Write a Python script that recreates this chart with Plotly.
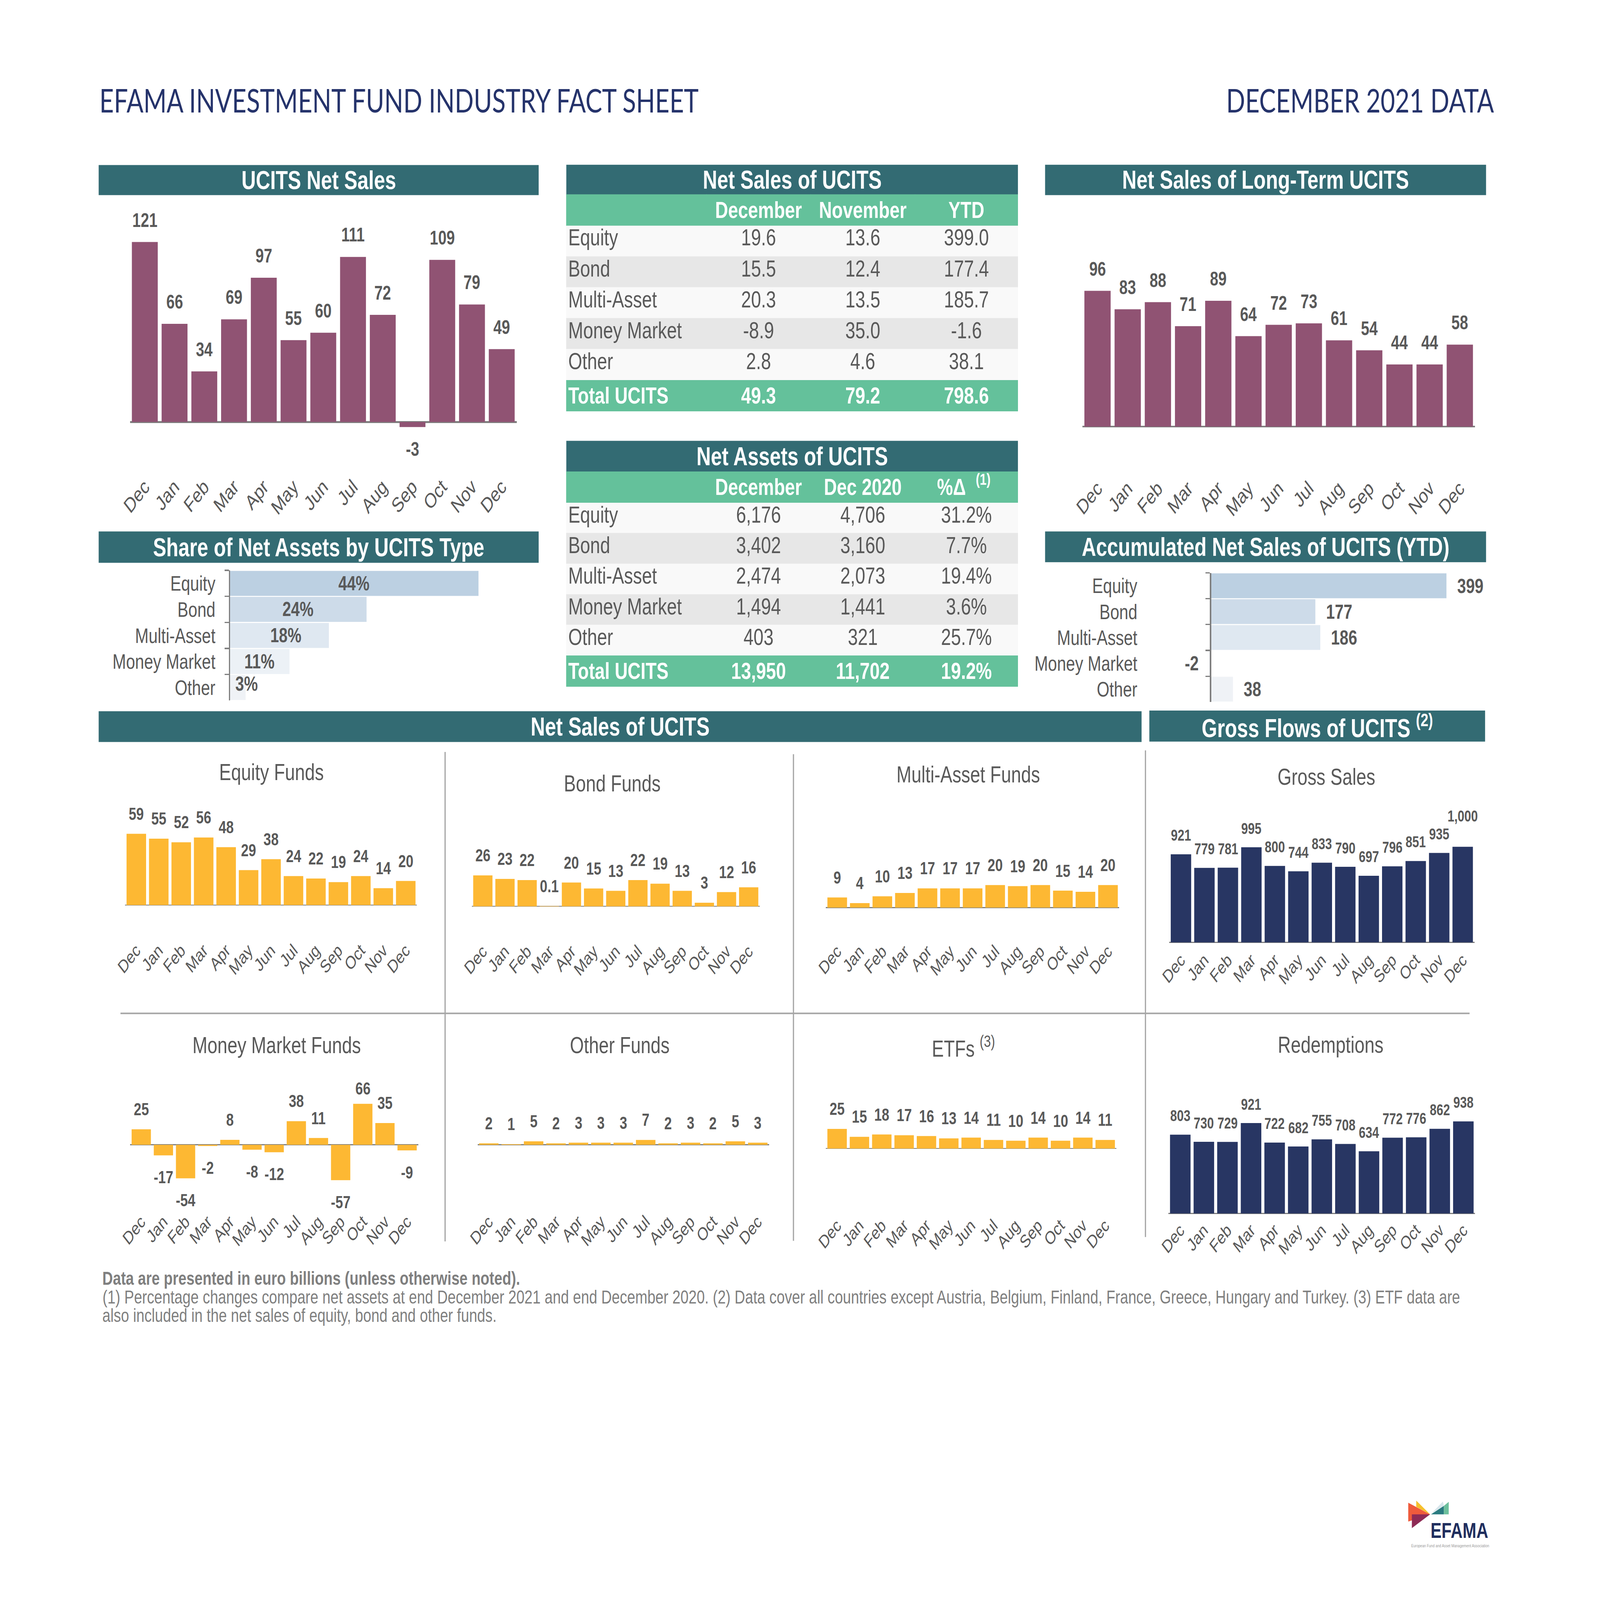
import plotly.graph_objects as go

W, H = 6600, 5100

# --- data ---
months = ["Dec", "Jan", "Feb", "Mar", "Apr", "May", "Jun", "Jul", "Aug", "Sep", "Oct", "Nov", "Dec"]
fund_types = ["Equity", "Bond", "Multi-Asset", "Money Market", "Other"]

ucits_net_sales = [121, 66, 34, 69, 97, 55, 60, 111, 72, -3.4, 109, 79, 49]
long_term_sales = [96, 83, 88, 71, 89, 64, 72, 73, 61, 54, 44, 44, 58]
equity_funds = [59, 55, 52, 56, 48, 29, 38, 24, 22, 19, 24, 14, 20]
bond_funds = [26, 23, 22, 0.1, 20, 15, 13, 22, 19, 13, 3, 12, 16]
multi_asset_funds = [9, 4, 10, 13, 17, 17, 17, 20, 19, 20, 15, 14, 20]
money_market_funds = [25, -17, -54, -2, 8, -8, -12, 38, 11, -57, 66, 35, -9]
other_funds = [2, 1, 5, 2, 3, 3, 3, 7, 2, 3, 2, 5, 3]
etfs = [25, 15, 18, 17, 16, 13, 14, 11, 10, 14, 10, 14, 11]
gross_sales = [921, 779, 781, 995, 800, 744, 833, 790, 697, 796, 851, 935, 1000]
redemptions = [803, 730, 729, 921, 722, 682, 755, 708, 634, 772, 776, 862, 938]

share_net_assets = [44.3, 24.4, 17.7, 10.7, 2.9]
ytd_net_sales = [399.0, 177.4, 185.7, -1.6, 38.1]

sales_columns = ["", "December", "November", "YTD"]
sales_rows = fund_types + ["Total UCITS"]
sales_december = ["19.6", "15.5", "20.3", "-8.9", "2.8", "49.3"]
sales_november = ["13.6", "12.4", "13.5", "35.0", "4.6", "79.2"]
sales_ytd = ["399.0", "177.4", "185.7", "-1.6", "38.1", "798.6"]

assets_columns = ["", "December", "Dec 2020", "%Δ\u00a0\u00a0\u00a0\u00a0\u00a0\u00a0"]
assets_december = ["6,176", "3,402", "2,474", "1,494", "403", "13,950"]
assets_dec2020 = ["4,706", "3,160", "2,073", "1,441", "321", "11,702"]
assets_change = ["31.2%", "7.7%", "19.4%", "3.6%", "25.7%", "19.2%"]

# --- colours ---
TEAL = "#336B73"
GREEN = "#64C19B"
PLUM = "#905373"
AMBER = "#FDB833"
NAVY = "#283663"
TEXT = "#595959"
RULE = "#A6A6A6"
AXIS = "#7F7F7F"
SHARE_BLUES = ["#BCD0E2", "#CDDBE9", "#DFE8F1", "#ECF1F6", "#EFF2F6"]
FONT = "Liberation Sans"


def fx(px):
    return px / W


def fy(px):
    return 1 - px / H


fig = go.Figure()
shapes = []
annotations = []
axis_layout = {}
axis_no = 0


def note(text, x, y, size, color=TEXT, anchor="center", bold=False, family=FONT):
    if bold:
        text = f"<b>{text}</b>"
    annotations.append(dict(text=text, x=fx(x), y=fy(y), xref="paper", yref="paper", xanchor=anchor,
                            yanchor="middle", showarrow=False, font=dict(size=size, color=color, family=family)))


def band(text, x0, x1, y0, y1):
    shapes.append(dict(type="rect", xref="paper", yref="paper", x0=fx(x0), x1=fx(x1), y0=fy(y0), y1=fy(y1),
                       fillcolor=TEAL, line_width=0, layer="below"))
    note(text, (x0 + x1) / 2, (y0 + y1) / 2, 82, "white", bold=True)


def rule(x0, y0, x1, y1):
    shapes.append(dict(type="line", xref="paper", yref="paper", x0=fx(x0), x1=fx(x1), y0=fy(y0), y1=fy(y1),
                       line=dict(color=RULE, width=5), layer="below"))


def fmt(v):
    if abs(v) < 1:
        return str(v)
    return f"{v:,.0f}"


def month_chart(values, x0, x1, zero, unit, tick_top, color, label_size, tick_size, line_w,
                up=64, down=70, standoff=0, lift=None):
    # column chart on its own axes, zero line at pixel `zero`, `unit` px per value
    global axis_no
    axis_no += 1
    lift = lift or {}
    top = zero - max(max(values), 0) * unit - 20
    xa, ya = f"x{axis_no}", f"y{axis_no}"
    fig.add_trace(go.Bar(x=list(range(13)), y=values, marker_color=color, marker_line_width=0,
                         xaxis=xa, yaxis=ya, width=0.87, showlegend=False, hoverinfo="skip"))
    axis_layout[f"xaxis{axis_no}"] = dict(
        domain=[fx(x0), fx(x1)], range=[-0.5, 12.5], anchor=ya, tickmode="array", tickvals=list(range(13)),
        ticktext=months, tickangle=-45, ticks="", showgrid=False, zeroline=False, showline=False,
        tickfont=dict(size=tick_size, color=TEXT, family=FONT), ticklabelstandoff=standoff)
    axis_layout[f"yaxis{axis_no}"] = dict(
        domain=[fy(tick_top), fy(top)], range=[-(tick_top - zero) / unit, (zero - top) / unit], anchor=xa,
        showgrid=False, showticklabels=False, ticks="", showline=False,
        zeroline=True, zerolinecolor=AXIS, zerolinewidth=line_w)
    for i, v in enumerate(values):
        annotations.append(dict(text=f"<b>{fmt(v)}</b>", x=i, y=v, xref=xa, yref=ya, showarrow=False,
                                xanchor="center", yanchor="middle",
                                yshift=(up if v >= 0 else -down) + lift.get(i, 0),
                                font=dict(size=label_size, color=TEXT, family=FONT)))


def type_chart(values, colors, axis_x, y0, y1, unit, right, left, standoff):
    # horizontal bars by fund type, axis line with boundary ticks at pixel axis_x
    global axis_no
    axis_no += 1
    xa, ya = f"x{axis_no}", f"y{axis_no}"
    fig.add_trace(go.Bar(y=fund_types, x=values, orientation="h", marker_color=colors, marker_line_width=0,
                         xaxis=xa, yaxis=ya, width=0.96, showlegend=False, hoverinfo="skip"))
    axis_layout[f"xaxis{axis_no}"] = dict(
        domain=[fx(left), fx(right)], range=[(left - axis_x) / unit, (right - axis_x) / unit], anchor=ya,
        visible=False)
    axis_layout[f"yaxis{axis_no}"] = dict(
        domain=[fy(y1), fy(y0)], range=[4.5, -0.5], type="category", anchor="free", position=fx(axis_x),
        showline=True, linecolor=AXIS, linewidth=5, ticks="outside", ticklen=18, tickwidth=4, tickcolor=AXIS,
        tickson="boundaries", showgrid=False, zeroline=False,
        tickfont=dict(size=67, color=TEXT, family=FONT), ticklabelstandoff=standoff)
    return xa, ya


def fact_table(columns, first, second, third, x0, x1, y0, y1, row_h):
    rows = len(first)
    fills = [["#F9F9F9", "#E7E7E7"][i % 2] for i in range(rows - 1)] + [GREEN]
    colors = [TEXT] * (rows - 1) + ["white"]
    cols = []
    for col in (sales_rows, first, second, third):
        cols.append(list(col[:-1]) + [f"<b>{col[-1]}</b>"])
    fig.add_trace(go.Table(
        domain=dict(x=[fx(x0), fx(x1)], y=[fy(y1), fy(y0)]),
        columnwidth=[578, 430, 430, 425],
        header=dict(values=[f"<b>{c}</b>" if c else "" for c in columns], fill_color=GREEN,
                    line=dict(width=1, color=GREEN),
                    align="center", height=row_h, font=dict(size=74, color="white", family=FONT)),
        cells=dict(values=cols, fill_color=[fills] * 4, line=dict(width=1, color=[fills] * 4), height=row_h,
                   align=["left", "center", "center", "center"],
                   font=dict(size=74, color=[colors] * 4, family=FONT))))


# --- page title ---
note("EFAMA INVESTMENT FUND INDUSTRY FACT SHEET", 408, 319, 103, "#25336B", anchor="left", family="Lato")
note("DECEMBER 2021 DATA", 6165, 319, 103, "#25336B", anchor="right", family="Lato")

# --- section bands ---
band("UCITS Net Sales", 407, 2222, 526, 622)
band("Net Sales of UCITS", 2336, 4199, 525, 620)
band("Net Sales of Long-Term UCITS", 4311, 6130, 525, 622)
band("Net Assets of UCITS", 2336, 4199, 1405, 1503)
band("Share of Net Assets by UCITS Type", 407, 2222, 1694, 1794)
band("Accumulated Net Sales of UCITS (YTD)", 4311, 6130, 1694, 1792)
band("Net Sales of UCITS", 407, 4709, 2267, 2365)
band("Gross Flows of UCITS <sup>(2)</sup>", 4741, 6126, 2265, 2364)

# --- tables ---
fact_table(sales_columns, sales_december, sales_november, sales_ytd, 2336, 4199, 620, 1340, 98.5)
fact_table(assets_columns, assets_december, assets_dec2020, assets_change, 2336, 4199, 1503, 2220, 97.5)
note("(1)", 4056, 1528, 50, "white", bold=True)

# --- top charts ---
month_chart(ucits_net_sales, 536, 2131, 1345, 4.74, 1499, PLUM, 62, 66, 6, up=70, down=70)
month_chart(long_term_sales, 4465, 6084, 1360, 4.51, 1504, PLUM, 62, 66, 5, up=70, down=70)

xa, ya = type_chart(share_net_assets, SHARE_BLUES, 946, 1818, 2233, 23.2, 2200, 946, 42)
share_shift = [(0, 0), (0, 0), (28, 0), (0, 0), (38, 12)]
for name, v, (dx, dy) in zip(fund_types, share_net_assets, share_shift):
    annotations.append(dict(text=f"<b>{v:.0f}%</b>", x=v / 2, y=name, xref=xa, yref=ya, showarrow=False,
                            xshift=dx, yshift=dy, font=dict(size=64, color=TEXT, family=FONT)))

xa, ya = type_chart(ytd_net_sales, SHARE_BLUES, 4993, 1826, 2238, 2.44, 6120, 4700, 286)
for name, v in zip(fund_types, ytd_net_sales):
    annotations.append(dict(text=f"<b>{v:.0f}</b>", x=v, y=name, xref=xa, yref=ya, showarrow=False,
                            xanchor="left" if v >= 0 else "right", xshift=42 if v >= 0 else -42,
                            font=dict(size=65, color=TEXT, family=FONT)))

# --- fund panels ---
month_chart(equity_funds, 516, 1720, 2885, 3.85, 2983, AMBER, 56, 58, 3)
month_chart(bond_funds, 1946, 3134, 2889, 3.8, 2986, AMBER, 56, 58, 3)
month_chart(multi_asset_funds, 3407, 4617, 2893, 3.6, 2986, AMBER, 56, 58, 3)
month_chart(money_market_funds, 537, 1725, 3649, 1.98, 3848, AMBER, 56, 58, 3, lift={10: -15})
month_chart(other_funds, 1970, 3172, 3649, 2.2, 3848, AMBER, 56, 58, 3)
month_chart(etfs, 3407, 4605, 3661, 2.5, 3860, AMBER, 56, 58, 3)
month_chart(gross_sales, 4823, 6082, 3004, 0.305, 3010, NAVY, 50, 58, 3, up=60, standoff=4, lift={12: 38})
month_chart(redemptions, 4820, 6085, 3868, 0.313, 3871, NAVY, 50, 58, 3, up=60, standoff=4)

note("Equity Funds", 1120, 2462, 74)
note("Bond Funds", 2525, 2496, 74)
note("Multi-Asset Funds", 3994, 2468, 74)
note("Gross Sales", 5471, 2476, 74)
note("Money Market Funds", 1141, 3331, 74)
note("Other Funds", 2556, 3331, 74)
note("ETFs <sup>(3)</sup>", 3974, 3337, 74)
note("Redemptions", 5489, 3329, 74)

rule(1836, 2397, 1836, 3957)
rule(3273, 2404, 3273, 3955)
rule(4725, 2392, 4725, 3943)
rule(497, 3230, 6062, 3230)

# --- footnotes ---
note("Data are presented in euro billions (unless otherwise noted).", 420, 4074, 60, AXIS, anchor="left", bold=True)
note("(1) Percentage changes compare net assets at end December 2021 and end December 2020. (2) Data cover all "
     "countries except Austria, Belgium, Finland, France, Greece, Hungary and Turkey. (3) ETF data are",
     420, 4134, 60, AXIS, anchor="left")
note("also included in the net sales of equity, bond and other funds.", 420, 4193, 60, AXIS, anchor="left")

# --- logo ---
logo_parts = [
    ("M5809,4790 L5809,4850 L5899,4827 Z", "#EF5B3C"),
    ("M5842,4783 L5842,4803 L5899,4827 Z", "#F6C02C"),
    ("M5824,4827 L5824,4871 L5899,4827 Z", "#8E2B55"),
    ("M5903,4827 L5956,4800 L5956,4827 Z", "#2A7B80"),
    ("M5956,4800 L5976,4787 L5976,4827 L5956,4827 Z", "#6CBF9C"),
    ("M5905,4824 L5952,4786 L5956,4800 Z", "#D8E6EC"),
]
for path, color in logo_parts:
    pts = path.replace("M", "").replace("L", "").replace("Z", "").split()
    paper = [f"{fx(float(p.split(',')[0])):.5f},{fy(float(p.split(',')[1])):.5f}" for p in pts]
    shapes.append(dict(type="path", xref="paper", yref="paper", path="M" + " L".join(paper) + " Z",
                       fillcolor=color, line_width=0))
note("EFAMA", 6020, 4878, 68, "#1F2E5E", bold=True)
note("European Fund and Asset Management Association", 5982, 4927, 14, "#9A9A9A")

fig.update_layout(width=W, height=H, margin=dict(l=0, r=0, t=0, b=0, autoexpand=False), paper_bgcolor="white",
                  plot_bgcolor="rgba(0,0,0,0)", showlegend=False, barmode="overlay",
                  font=dict(family=FONT, color=TEXT), shapes=shapes, annotations=annotations, **axis_layout)

# the browser window can be smaller than the page asked for, so fit the drawn page to it
fit_window = """
var page = document.getElementsByClassName('plotly-graph-div')[0];
document.body.style.margin = '0';
document.documentElement.style.overflow = 'hidden';
page.style.transformOrigin = '0 0';
page.style.transform = 'scale(' + window.innerWidth / 6600 + ',' + window.innerHeight / 5100 + ')';
"""
fig.write_html("out.html", post_script=fit_window, config={"displayModeBar": False})
